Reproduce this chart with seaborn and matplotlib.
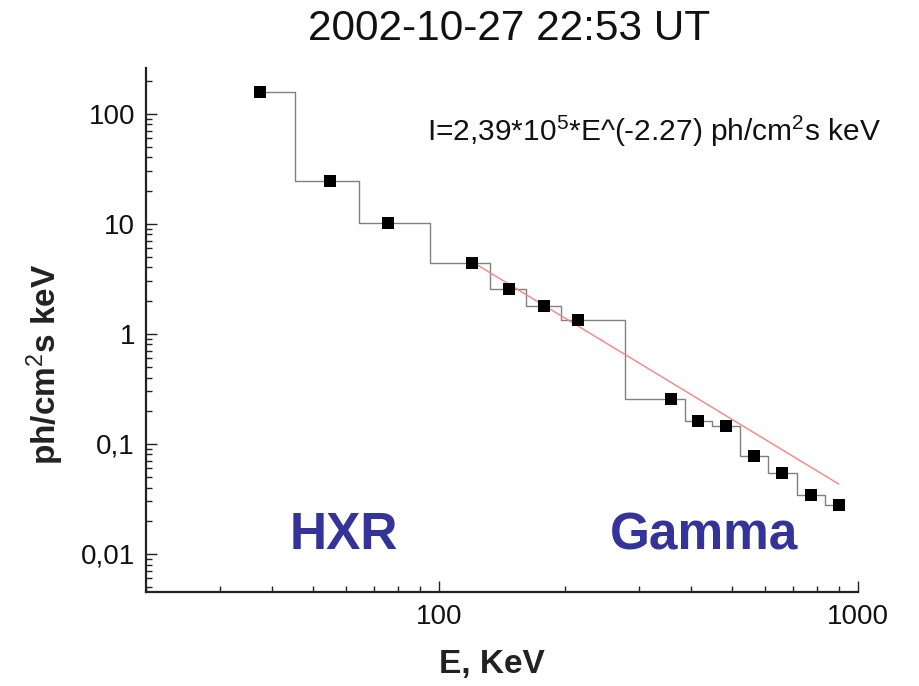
import numpy as np
import pandas as pd
import matplotlib
matplotlib.use("Agg")
import matplotlib.pyplot as plt
import seaborn as sns
from matplotlib.ticker import FixedLocator, FixedFormatter, LogLocator, NullFormatter

# ---- data ----
energy = [37.4, 55.0, 75.7, 120.2, 146.6, 178.2, 215.2, 357.7, 416, 484, 565, 660, 771, 900]
flux = [156, 24.2, 10.15, 4.39, 2.57, 1.79, 1.33, 0.255, 0.160, 0.146, 0.078, 0.0548, 0.0342, 0.028]
fit_energy = [120, 900]
fit_flux = [4.5, 0.043]
x_ticks = [100, 1000]
x_tick_labels = ["100", "1000"]
y_ticks = [0.01, 0.1, 1, 10, 100]
y_tick_labels = ["0,01", "0,1", "1", "10", "100"]
x_limits = (20, 1000)
y_limits = (0.0045, 260)

sns.set_theme(style="white")
plt.rcParams["font.family"] = ["Liberation Sans", "DejaVu Sans"]
plt.rcParams["mathtext.fontset"] = "custom"
plt.rcParams["mathtext.rm"] = "Liberation Sans"
plt.rcParams["mathtext.it"] = "Liberation Sans"
plt.rcParams["mathtext.bf"] = "Liberation Sans:bold"
plt.rcParams["mathtext.default"] = "rm"

fig = plt.figure(figsize=(9.19, 6.86), dpi=100)
ax = fig.add_axes([146 / 919, 1 - 592 / 686, 712 / 919, 524 / 686])
ax.set_xscale("log")
ax.set_yscale("log")

# step (histogram-like) line: vertical drops at geometric midpoints
e = np.asarray(energy, float)
f = np.asarray(flux, float)
edges = np.sqrt(e[:-1] * e[1:])
xs = [e[0]]
ys = [f[0]]
for i, m in enumerate(edges):
    xs += [m, m]
    ys += [f[i], f[i + 1]]
xs.append(e[-1])
ys.append(f[-1])
step_df = pd.DataFrame({"E": xs, "I": ys})
sns.lineplot(data=step_df, x="E", y="I", sort=False, estimator=None,
             color="#808080", linewidth=1.0, ax=ax)

fit_df = pd.DataFrame({"E": fit_energy, "I": fit_flux})
sns.lineplot(data=fit_df, x="E", y="I", sort=False, estimator=None,
             color="#ff8080", linewidth=1.0, ax=ax)

pts_df = pd.DataFrame({"E": energy, "I": flux})
sns.scatterplot(data=pts_df, x="E", y="I", marker="s", s=85, color="black",
                edgecolor="black", linewidth=0, zorder=5, ax=ax)

ax.set_xlim(*x_limits)
ax.set_ylim(*y_limits)

ax.xaxis.set_major_locator(FixedLocator(x_ticks))
ax.xaxis.set_major_formatter(FixedFormatter(x_tick_labels))
ax.yaxis.set_major_locator(FixedLocator(y_ticks))
ax.yaxis.set_major_formatter(FixedFormatter(y_tick_labels))
ax.xaxis.set_minor_locator(LogLocator(base=10, subs=np.arange(2, 10)))
ax.yaxis.set_minor_locator(LogLocator(base=10, subs=np.arange(2, 10), numticks=20))
ax.xaxis.set_minor_formatter(NullFormatter())
ax.yaxis.set_minor_formatter(NullFormatter())

ax.tick_params(axis="both", which="major", direction="in", length=8, width=1.0,
               color="#222222", labelsize=20, labelcolor="#111111")
ax.tick_params(axis="both", which="minor", direction="in", length=4.5, width=1.0,
               color="#222222")
ax.tick_params(axis="y", which="major", pad=8)
ax.tick_params(axis="x", which="major", pad=9)
ax.tick_params(left=True, bottom=True, which="both")

for side in ["top", "right"]:
    ax.spines[side].set_visible(False)
for side in ["left", "bottom"]:
    ax.spines[side].set_linewidth(1.6)
    ax.spines[side].set_color("#222222")

ax.set_xlabel("E, KeV", fontsize=24, fontweight="bold", color="#222222", va="center")
ax.xaxis.set_label_coords(0.486, -0.139)
ax.set_ylabel(r"ph/cm$^{2}$s keV", fontsize=24, fontweight="bold", color="#222222",
              va="center")
ax.yaxis.set_label_coords(-0.142, 0.435)

ax.text(0.395, 0.861, r"I=2,39*10$^{5}$*E^(-2.27) ph/cm$^{2}$s keV",
        transform=ax.transAxes, fontsize=21.5, color="#111111",
        ha="left", va="baseline")

ax.text(0.202, 0.082, "HXR", transform=ax.transAxes, fontsize=37,
        fontweight="bold", color="#333399", ha="left", va="baseline")
ax.text(0.652, 0.082, "Gamma", transform=ax.transAxes, fontsize=37,
        fontweight="bold", color="#333399", ha="left", va="baseline")

fig.text(509 / 919, 1 - 40 / 686, "2002-10-27 22:53 UT", fontsize=30.5,
         color="#111111", ha="center", va="baseline")

fig.savefig("out.png", dpi=100)
